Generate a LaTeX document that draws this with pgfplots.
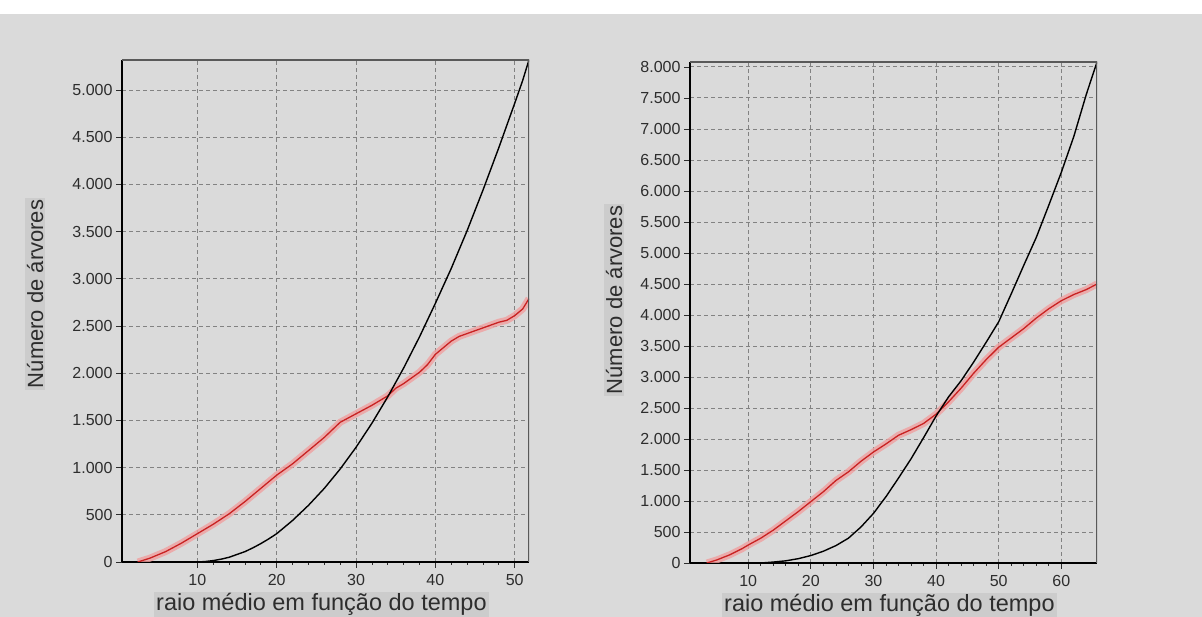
\documentclass[border=0pt]{standalone}
\usepackage{pgfplots}
\usepackage{pgfplotstable}
\pgfplotsset{compat=1.18}
\usepackage{fontspec}
\setmainfont{Liberation Sans}
\definecolor{bg}{RGB}{218,218,218}
\definecolor{boxg}{RGB}{204,204,204}
\definecolor{txt}{RGB}{45,45,45}
\definecolor{gridc}{RGB}{130,130,130}
\definecolor{redl}{RGB}{200,35,35}
\definecolor{halocol}{RGB}{240,160,160}
\newcommand{\tickfont}{\fontsize{16}{16}\selectfont}

\pgfplotstableread{
x y
2.5 0
4 40
6 110
8 200
10 300
12 400
14 510
16 640
18 780
20 920
22 1040
24 1180
26 1320
27 1400
28 1480
30 1570
32 1660
34 1760
35 1840
36 1890
38 2010
39 2090
40 2200
41 2270
42 2340
43 2390
44 2420
45 2450
46 2480
47 2510
48 2540
49 2560
50 2610
51 2680
51.8 2790
}\leftred

\pgfplotstableread{
x y
10 0
11 5
12 15
13 30
14 50
15 80
16 110
17 150
18 195
19 245
20 300
22 440
24 600
26 780
28 985
30 1215
32 1470
34 1750
36 2055
38 2385
40 2740
42 3110
44 3510
46 3940
48 4390
50 4860
51 5100
51.8 5320
}\leftblack

\pgfplotstableread{
x y
3.4 0
5 50
7 130
9 230
10 290
12 400
14 530
16 680
18 830
20 990
22 1150
24 1330
26 1470
28 1640
30 1790
32 1920
34 2060
36 2150
38 2250
40 2400
42 2600
44 2820
46 3060
48 3280
50 3480
52 3630
54 3780
56 3950
58 4100
60 4230
62 4330
64 4410
65.7 4500
}\rightred

\pgfplotstableread{
x y
12 0
14 15
16 35
18 70
20 120
22 190
24 280
26 400
28 580
30 800
32 1070
34 1370
36 1680
38 2020
40 2370
42 2680
44 2940
46 3240
48 3560
50 3890
52 4340
54 4800
56 5250
58 5770
60 6300
62 6880
64 7560
65.7 8080
}\rightblack

\pgfplotsset{
  panel/.style={
    scale only axis, width=407pt, anchor=south west,
    axis x line*=bottom, axis y line*=left,
    axis line style={-, black, line width=2pt},
    grid=major,
    major grid style={gridc, line width=0.9pt, dash pattern=on 4pt off 3pt},
    tick align=outside,
    major tick length=6pt, minor tick length=3pt,
    major tick style={txt, line width=0.8pt},
    minor tick style={txt, line width=0.8pt},
    minor x tick num=4,
    scaled y ticks=false,
    ymin=0,
    xticklabel={\tickfont\pgfmathprintnumber[assume math mode=true]{\tick}},
    yticklabel={\tickfont\pgfmathprintnumber[assume math mode=true,1000 sep={.}]{\tick}},
    xticklabel style={text=txt, yshift=-3pt},
    yticklabel style={text=txt},
    xlabel={raio médio em função do tempo},
    ylabel={Número de árvores},
    xlabel style={font=\fontsize{23.5}{23.5}\selectfont, text=txt, fill=boxg, inner sep=2pt, anchor=base, at={(axis description cs:0.49,0)}, yshift=-49pt},
    ylabel style={font=\fontsize{22}{22}\selectfont, text=txt, fill=boxg, inner sep=2pt, anchor=base},
  },
  halostyle/.style={halocol, line width=7pt, opacity=0.8, no markers},
  redstyle/.style={redl, line width=1.3pt, no markers},
  blkstyle/.style={black, line width=1.4pt, no markers},
}

\begin{document}
\begin{tikzpicture}[x=1pt,y=1pt]
\fill[bg] (0,0) rectangle (1202,617);
\fill[white] (0,603) rectangle (1202,617);
\useasboundingbox (0,0) rectangle (1202,617);

\begin{axis}[panel, height=502pt, at={(122pt,55pt)},
  xmin=0.5, xmax=51.8, ymax=5318,
  xtick={10,20,30,40,50}, ytick distance=500,
  ylabel style={at={(axis description cs:-0.194,0.534)}}]
\addplot[halostyle] table {\leftred};
\addplot[redstyle] table {\leftred};
\addplot[blkstyle] table {\leftblack};
\draw[gray!70!black, line width=1.5pt] (rel axis cs:0,1) -- (rel axis cs:1,1) -- (rel axis cs:1,0);
\end{axis}

\begin{axis}[panel, height=501pt, at={(690pt,54pt)},
  xmin=0.7, xmax=65.7, ymax=8080,
  xtick={10,20,30,40,50,60}, ytick distance=500,
  ylabel style={at={(axis description cs:-0.167,0.525)}}]
\addplot[halostyle] table {\rightred};
\addplot[redstyle] table {\rightred};
\addplot[blkstyle] table {\rightblack};
\draw[gray!70!black, line width=1.5pt] (rel axis cs:0,1) -- (rel axis cs:1,1) -- (rel axis cs:1,0);
\end{axis}
\end{tikzpicture}
\end{document}
